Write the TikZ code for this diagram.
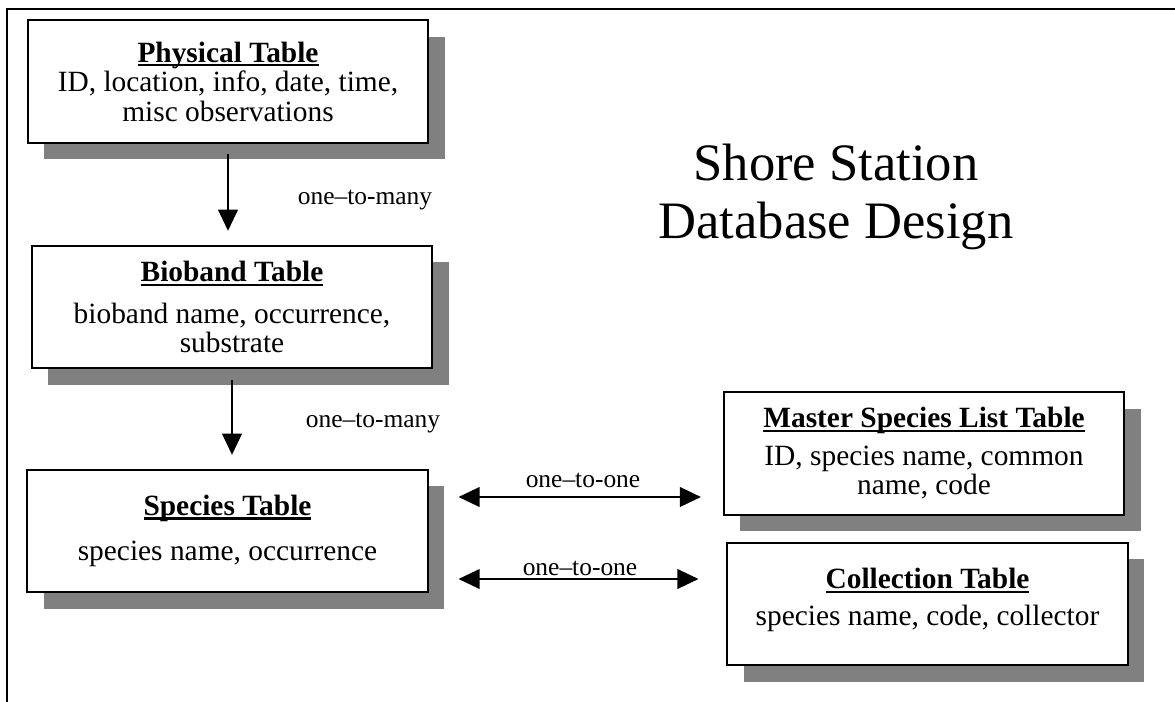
\documentclass[tikz,border=0pt]{standalone}
\usepackage{fontspec}
\setmainfont{Liberation Serif}
\usetikzlibrary{arrows.meta,shadows}
\newcommand{\tabhead}[1]{\leavevmode\setbox0\hbox{\bfseries #1}\rlap{\rule[-3pt]{\wd0}{1.5pt}}\box0}
\tikzset{
  tbl/.style={draw, line width=1.4pt, fill=white, minimum width=10cm, minimum height=3.06cm,
    align=center, font=\fontsize{20.9}{21}\selectfont,
    drop shadow={shadow xshift=11.7pt, shadow yshift=-11.7pt, fill=gray, opacity=1}},
  rel/.style={font=\fontsize{18.1}{20}\selectfont},
  link/.style={line width=1.2pt}
}
\begin{document}
\begin{tikzpicture}[x=0.025cm, y=-0.025cm, >={Triangle[length=15pt,width=14pt]}]
\path[fill=white, use as bounding box] (0,0) rectangle (1175,702);
\draw[line width=1.4pt] (7,702)--(7,9)--(1175,9);
% tables
\node[tbl] (phys) at (228,81.5) {\tabhead{Physical Table}\\ID, location, info, date, time,\\misc observations};
\node[tbl] (bio) at (232,307) {\tabhead{Bioband Table}\\[8.5pt]bioband name, occurrence,\\substrate};
\node[tbl] (spec) at (227.5,531) {\tabhead{Species Table}\\[11.3pt]species name, occurrence};
\node[tbl] (master) at (924,453.5) {\tabhead{Master Species List Table}\\[5.7pt]ID, species name, common\\name, code};
\node[tbl] (coll) at (927.5,604) {\tabhead{Collection Table}\\[5pt]species name, code, collector\rule[-10pt]{0pt}{10pt}};
\node[font=\fontsize{37.4}{41.5}\selectfont, align=center] (title) at (836,197) {Shore Station\\Database Design};
% relations
\draw[link,->, shorten <=0.25cm, shorten >=0.35cm](phys.south)--(phys.south |- bio.north);
\draw[link,->, shorten <=0.275cm, shorten >=0.35cm](bio.south)--(bio.south |- spec.north);
\draw[link,<->, shorten <=0.75cm, shorten >=0.55cm](spec.east |- 0,497)--(master.west |- 0,497);
\draw[link,<->, shorten <=0.75cm, shorten >=0.7cm](spec.east |- 0,579)--(coll.west |- 0,579);
\node[rel] (r1) at (365,200) {one--to-many};
\node[rel] (r2) at (373,423) {one--to-many};
\node[rel] (r3) at (583,480) {one--to-one};
\node[rel] (r4) at (580,568) {one--to-one};
\end{tikzpicture}
\end{document}
